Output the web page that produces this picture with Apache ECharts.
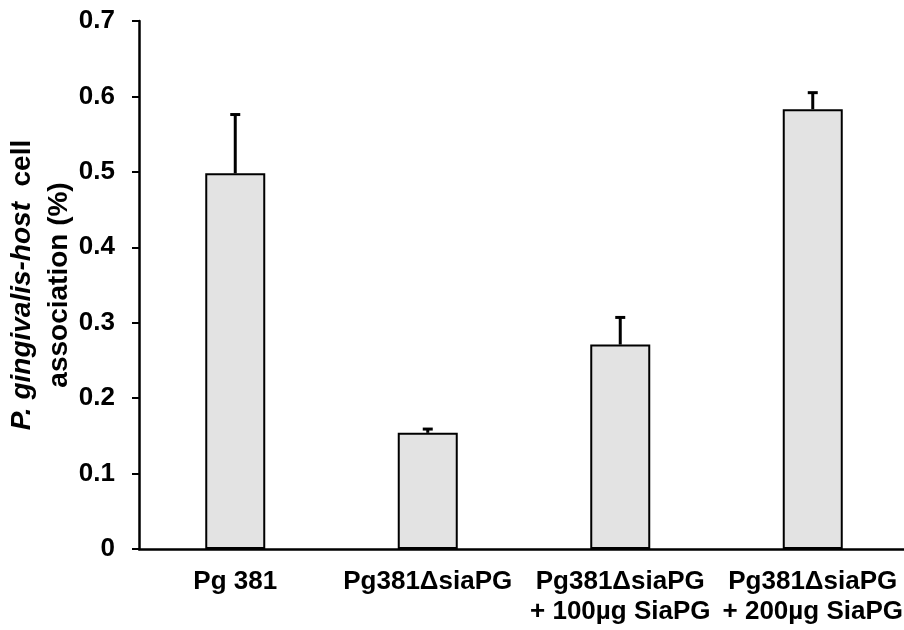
<!DOCTYPE html>
<html>
<head>
<meta charset="utf-8">
<script src="https://cdn.jsdelivr.net/npm/echarts@6/dist/echarts.min.js"></script>
<style>html,body{margin:0;padding:0;background:#fff}#c{width:904px;height:630px}</style>
</head>
<body>
<div id="c"></div>
<script>
const categories = ['Pg 381', 'Pg381ΔsiaPG', 'Pg381ΔsiaPG\n+ 100µg SiaPG', 'Pg381ΔsiaPG\n+ 200µg SiaPG'];
const means = [0.498, 0.154, 0.271, 0.583];
const errors = [0.078, 0.005, 0.036, 0.022];
const yTicks = [0, 0.1, 0.2, 0.3, 0.4, 0.5, 0.6, 0.7];

const chart = echarts.init(document.getElementById('c'), null, {renderer: 'canvas'});
const font = 'Liberation Sans, Arial, sans-serif';
const errData = means.map((m, i) => [i, m, m + errors[i]]);

chart.setOption({
  animation: false,
  grid: {left: 139, right: -5, top: 21, bottom: 81, containLabel: false, outerBoundsMode: 'none'},
  xAxis: {
    type: 'category',
    data: categories,
    axisLine: {lineStyle: {color: '#000', width: 2.5}},
    axisTick: {show: false},
    axisLabel: {color: '#000', fontFamily: font, fontWeight: 'bold', fontSize: 26, margin: 18, lineHeight: 30, interval: 0, hideOverlap: false}
  },
  yAxis: {
    type: 'value',
    min: 0, max: 0.7, interval: 0.1,
    splitLine: {show: false},
    axisLine: {show: true, lineStyle: {color: '#000', width: 2.5}},
    axisTick: {show: true, length: 7, lineStyle: {color: '#000', width: 2}},
    axisLabel: {color: '#000', fontFamily: font, fontWeight: 'bold', fontSize: 26, margin: 24,
      formatter: v => { const t = yTicks.find(x => Math.abs(x - v) < 1e-9); return t === 0 ? '0' : String(+t.toFixed(1)); }},
    name: '{i|P. gingivalis-host}{n|  cell}\n{n|association (%)}',
    nameLocation: 'middle',
    nameGap: 61,
    nameRotate: 90,
    nameMoveOverlap: false,
    nameTextStyle: {
      lineHeight: 37,
      rich: {
        i: {fontFamily: font, fontWeight: 'bold', fontStyle: 'italic', fontSize: 28, color: '#000', lineHeight: 37},
        n: {fontFamily: font, fontWeight: 'bold', fontSize: 28, color: '#000', lineHeight: 37}
      }
    }
  },
  series: [
    {
      type: 'bar',
      data: means,
      barWidth: 60,
      itemStyle: {color: '#e3e3e3', borderColor: '#000', borderWidth: 2},
      z: 2
    },
    {
      type: 'custom',
      data: errData,
      z: 3,
      renderItem: function (params, api) {
        const base = api.coord([api.value(0), api.value(1)]);
        const top = api.coord([api.value(0), api.value(2)]);
        const hw = 5;
        return {
          type: 'group',
          children: [
            {type: 'line', shape: {x1: base[0], y1: base[1], x2: top[0], y2: top[1]}, style: {stroke: '#000', lineWidth: 3}},
            {type: 'line', shape: {x1: top[0] - hw, y1: top[1], x2: top[0] + hw, y2: top[1]}, style: {stroke: '#000', lineWidth: 3}}
          ]
        };
      }
    }
  ]
});
</script>
</body>
</html>
